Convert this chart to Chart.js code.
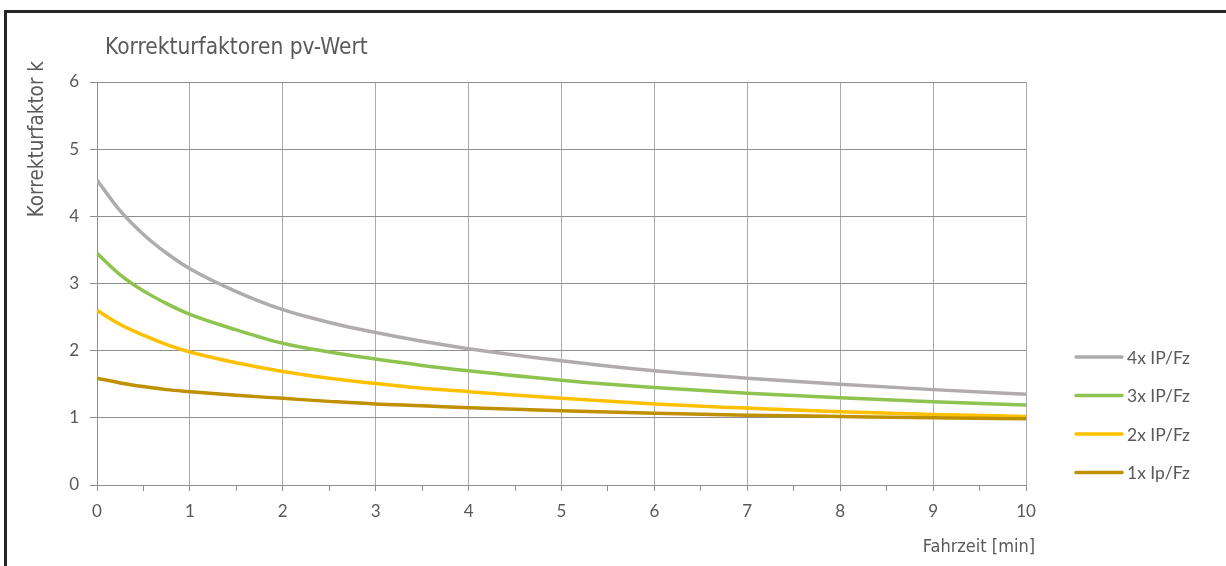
<!DOCTYPE html>
<html>
<head>
<meta charset="utf-8">
<script src="https://cdn.jsdelivr.net/npm/chart.js@4"></script>
<style>
  html, body { margin: 0; padding: 0; background: #fff; }
  #wrap { position: relative; width: 1226px; height: 566px; overflow: hidden; }
  #c { position: absolute; left: 0; top: 0; }
  .edgeTop { position: absolute; left: 4px; top: 10px; width: 1222px; height: 3px; background: #262626; }
  .edgeLeft { position: absolute; left: 4px; top: 10px; width: 3px; height: 556px; background: #262626; }
</style>
</head>
<body>
<div id="wrap">
  <canvas id="c" width="1226" height="566"></canvas>
  <div class="edgeTop"></div>
  <div class="edgeLeft"></div>
</div>
<script>
// Fahrzeit in Minuten
var fahrzeit = [0, 0.25, 0.5, 0.75, 1, 1.5, 2, 2.5, 3, 3.5, 4, 5, 6, 7, 8, 9, 10];

// Korrekturfaktor k je Kurve
var k4x = [4.54, 4.08, 3.73, 3.45, 3.22, 2.88, 2.61, 2.42, 2.27, 2.14, 2.03, 1.85, 1.70, 1.59, 1.50, 1.42, 1.35];
var k3x = [3.45, 3.13, 2.89, 2.70, 2.54, 2.31, 2.11, 1.98, 1.875, 1.78, 1.70, 1.56, 1.45, 1.365, 1.30, 1.24, 1.19];
var k2x = [2.60, 2.39, 2.23, 2.09, 1.98, 1.82, 1.69, 1.59, 1.51, 1.44, 1.39, 1.29, 1.205, 1.145, 1.09, 1.05, 1.02];
var k1x = [1.59, 1.52, 1.465, 1.42, 1.39, 1.335, 1.29, 1.245, 1.205, 1.18, 1.15, 1.105, 1.07, 1.04, 1.02, 1.00, 0.985];

var seriesNames = ["4x IP/Fz", "3x IP/Fz", "2x IP/Fz", "1x Ip/Fz"];
var seriesColors = ["#b0acac", "#8fc34f", "#ffc000", "#bf9000"];

var yTicks = [0, 1, 2, 3, 4, 5, 6];

var chartTitle = "Korrekturfaktoren pv-Wert";
var yTitle = "Korrekturfaktor k";
var xTitle = "Fahrzeit [min]";

var textColor = "#595959";
var condFont = "'Liberation Sans Narrow', 'DejaVu Sans Condensed', Roboto, sans-serif";
var tickFont = "Lato, 'Open Sans', sans-serif";

function points(vals){
  return fahrzeit.map(function(x, i){ return {x: x, y: vals[i]}; });
}

var allSeries = [k4x, k3x, k2x, k1x];
// 1x zuletzt zeichnen -> liegt oben
var datasets = allSeries.map(function(vals, i){
  return {
    label: seriesNames[i],
    data: points(vals),
    borderColor: seriesColors[i],
    backgroundColor: seriesColors[i],
    borderWidth: 3.5,
    pointRadius: 0,
    cubicInterpolationMode: 'monotone',
    fill: false,
    order: allSeries.length - i
  };
});

// Titel, Achsentitel und Legende wie im Original platzieren
var textPlugin = {
  id: 'texts',
  afterDraw: function(chart){
    var ctx = chart.ctx, a = chart.chartArea;
    ctx.save();
    ctx.fillStyle = textColor;
    ctx.textBaseline = 'middle';

    ctx.font = "22.5px " + condFont;
    ctx.textAlign = 'left';
    ctx.fillText(chartTitle, a.left + 8, a.top - 34);

    ctx.font = "18px " + condFont;
    ctx.textAlign = 'right';
    ctx.fillText(xTitle, a.right + 9, a.bottom + 62);

    ctx.save();
    ctx.font = "20.5px " + condFont;
    ctx.translate(a.left - 59, a.top - 21);
    ctx.rotate(-Math.PI / 2);
    ctx.textAlign = 'right';
    ctx.fillText(yTitle, 0, 0);
    ctx.restore();

    // Legende
    ctx.font = "17.5px " + tickFont;
    ctx.textAlign = 'left';
    var y0 = a.bottom - 128;
    for (var i = 0; i < seriesNames.length; i++){
      var y = y0 + i * 38.5;
      ctx.strokeStyle = seriesColors[i];
      ctx.lineWidth = 3.5;
      ctx.lineCap = 'round';
      ctx.beginPath();
      ctx.moveTo(a.right + 50, y);
      ctx.lineTo(a.right + 96, y);
      ctx.stroke();
      ctx.fillText(seriesNames[i], a.right + 101, y + 1);
    }
    ctx.restore();
  }
};

var ctx = document.getElementById('c');
new Chart(ctx, {
  type: 'line',
  data: { datasets: datasets },
  options: {
    responsive: false,
    animation: false,
    devicePixelRatio: 1,
    layout: { padding: { left: 0, top: 82, right: 200, bottom: 0 } },
    plugins: {
      legend: { display: false },
      title: { display: false },
      tooltip: { enabled: false }
    },
    scales: {
      x: {
        type: 'linear',
        min: 0,
        max: 10,
        afterFit: function(s){ s.height = 81; },
        ticks: {
          stepSize: 0.5,
          autoSkip: false,
          maxRotation: 0,
          padding: 10,
          color: textColor,
          font: { family: tickFont, size: 17 },
          callback: function(v){ return v % 1 === 0 ? String(v) : ''; }
        },
        grid: {
          color: function(c){ return c.tick && c.tick.value % 1 === 0 ? '#ababab' : 'rgba(0,0,0,0)'; },
          tickColor: '#8e8e8e',
          tickLength: 6,
          lineWidth: 1
        },
        border: { color: '#8e8e8e', width: 1 }
      },
      y: {
        min: 0,
        max: 6,
        afterFit: function(s){ s.width = 97; },
        afterBuildTicks: function(s){ s.ticks = yTicks.map(function(v){ return {value: v}; }); },
        ticks: {
          padding: 11,
          color: textColor,
          font: { family: tickFont, size: 17 }
        },
        grid: {
          color: '#8e8e8e',
          tickColor: '#8e8e8e',
          tickLength: 7,
          lineWidth: 1
        },
        border: { color: '#8e8e8e', width: 1 }
      }
    }
  },
  plugins: [textPlugin]
});
</script>
</body>
</html>
